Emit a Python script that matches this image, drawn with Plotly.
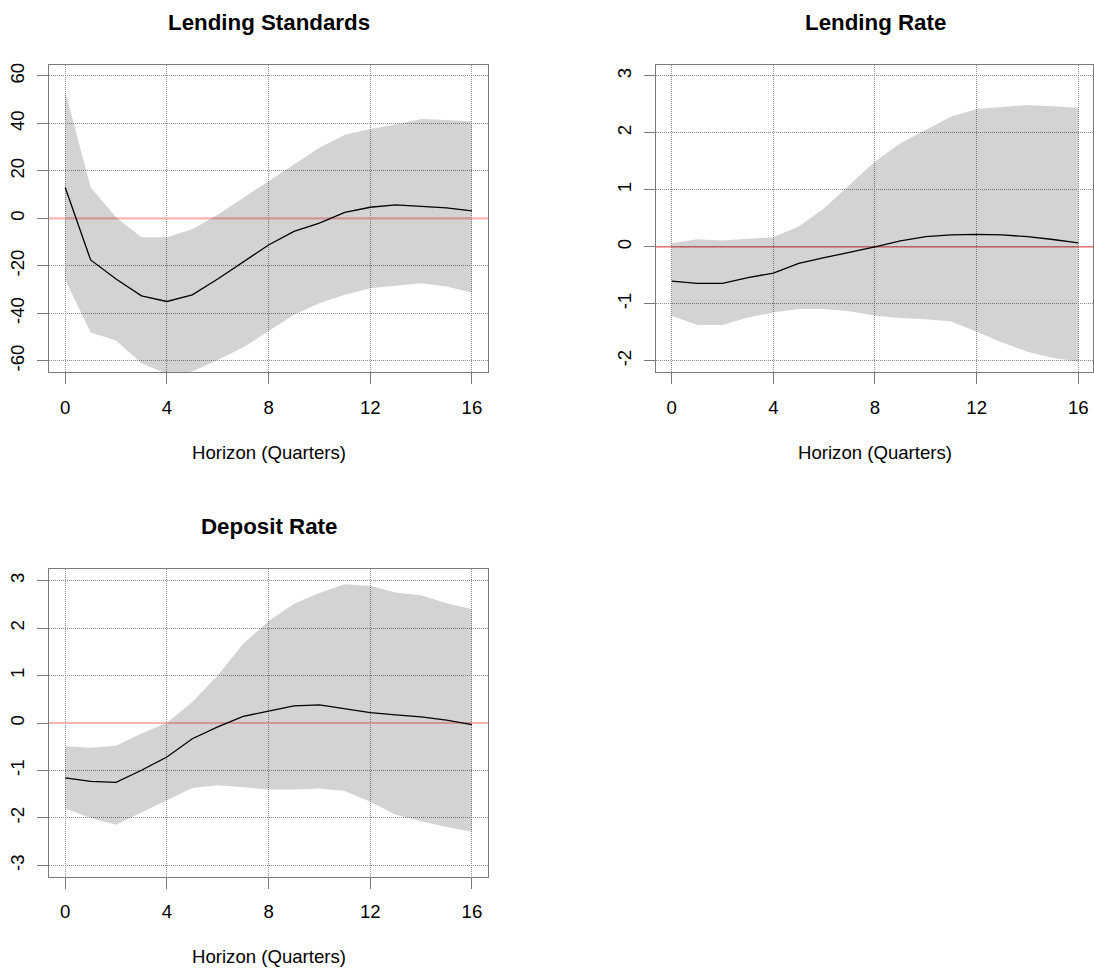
import plotly.graph_objects as go

# Impulse responses (median) with credible band, horizons 0..16 quarters
horizon = list(range(17))

ls_mid = [13.0, -17.5, -25.5, -32.6, -35.0, -32.2, -25.5, -18.2, -11.2, -5.5, -2.0,
          2.5, 4.7, 5.7, 5.1, 4.4, 3.2]
ls_up = [53.7, 13.1, 0.5, -7.9, -7.9, -4.6, 1.5, 8.5, 15.8, 22.5, 29.8,
         35.2, 37.7, 39.6, 41.9, 41.5, 40.8]
ls_lo = [-25.9, -48.1, -51.4, -61.0, -65.5, -64.5, -59.6, -54.4, -47.6, -40.6, -35.7,
         -32.2, -29.4, -28.3, -27.3, -28.7, -31.2]

lr_mid = [-0.60, -0.64, -0.64, -0.54, -0.46, -0.29, -0.19, -0.10, 0.0, 0.105, 0.18,
          0.21, 0.22, 0.21, 0.18, 0.13, 0.07]
lr_up = [0.064, 0.135, 0.11, 0.135, 0.17, 0.36, 0.68, 1.09, 1.50, 1.82, 2.05,
         2.29, 2.42, 2.46, 2.49, 2.47, 2.44]
lr_lo = [-1.21, -1.37, -1.37, -1.24, -1.15, -1.09, -1.09, -1.13, -1.21, -1.25, -1.27,
         -1.31, -1.49, -1.68, -1.84, -1.95, -2.01]

dr_mid = [-1.157, -1.23, -1.25, -0.995, -0.715, -0.33, -0.08, 0.14, 0.25, 0.36, 0.38,
          0.30, 0.22, 0.17, 0.13, 0.06, -0.035]
dr_up = [-0.49, -0.52, -0.48, -0.22, 0.007, 0.44, 1.00, 1.67, 2.14, 2.51, 2.74,
         2.92, 2.89, 2.75, 2.69, 2.52, 2.40]
dr_lo = [-1.80, -2.00, -2.14, -1.89, -1.63, -1.37, -1.31, -1.35, -1.40, -1.40, -1.38,
         -1.43, -1.66, -1.93, -2.07, -2.19, -2.29]

titles = ["Lending Standards", "Lending Rate", "Deposit Rate"]
x_title = "Horizon (Quarters)"
x_ticks = [0, 4, 8, 12, 16]
y_ticks = [[-60, -40, -20, 0, 20, 40, 60],
           [-2, -1, 0, 1, 2, 3],
           [-3, -2, -1, 0, 1, 2, 3]]

W, H = 1094, 971
FONT = "Liberation Sans"
BASE = 18.6

panels = [
    dict(mid=ls_mid, up=ls_up, lo=ls_lo, xr=[-0.64, 16.64], yr=[-64.8, 64.8],
         box=(49.0, 488.6, 62.7, 371.0), zero="rgb(255,180,180)", zw=2.2),
    dict(mid=lr_mid, up=lr_up, lo=lr_lo, xr=[-0.613, 16.578], yr=[-2.2, 3.2],
         box=(656.7, 1094.0, 62.7, 371.0), zero="rgb(235,95,95)", zw=1.1),
    dict(mid=dr_mid, up=dr_up, lo=dr_lo, xr=[-0.64, 16.64], yr=[-3.24, 3.24],
         box=(49.0, 488.6, 568.3, 876.7), zero="rgb(255,180,180)", zw=2.2),
]

fig = go.Figure()
annotations = []

for k, p in enumerate(panels):
    n = "" if k == 0 else str(k + 1)
    xa, ya = "x" + n, "y" + n
    x0, x1, y0, y1 = p["box"]

    # zero reference line spanning the full x range (above grid, under band)
    fig.add_trace(go.Scatter(
        x=p["xr"], y=[0, 0], mode="lines", line=dict(color=p["zero"], width=p["zw"]),
        hoverinfo="skip", showlegend=False, xaxis=xa, yaxis=ya))
    # credible band
    fig.add_trace(go.Scatter(
        x=horizon + horizon[::-1], y=p["up"] + p["lo"][::-1],
        fill="toself", fillcolor="rgba(0,0,0,0.173)", line=dict(width=0),
        mode="lines", hoverinfo="skip", showlegend=False, xaxis=xa, yaxis=ya))
    # median response
    fig.add_trace(go.Scatter(
        x=horizon, y=p["mid"], mode="lines", line=dict(color="black", width=1.3),
        showlegend=False, xaxis=xa, yaxis=ya))

    axis_common = dict(showline=True, mirror=True, linecolor="#7a7a7a", linewidth=1,
                       showgrid=True, gridcolor="#8c8c8c", griddash="1px,1px", gridwidth=1,
                       zeroline=False, ticks="outside", ticklen=11, tickcolor="#7a7a7a",
                       tickfont=dict(family=FONT, size=BASE, color="black"))
    fig.layout["xaxis" + n] = dict(
        axis_common, domain=[x0 / W, min(x1 / W, 1.0)], range=p["xr"],
        tickvals=x_ticks, ticktext=[str(v) for v in x_ticks], ticklabelstandoff=7,
        anchor=ya)
    fig.layout["yaxis" + n] = dict(
        axis_common, domain=[1 - y1 / H, 1 - y0 / H], range=p["yr"],
        tickvals=y_ticks[k], ticktext=[str(v) for v in y_ticks[k]], tickangle=-90,
        ticklabelstandoff=6, anchor=xa)

    cx = (x0 + (x1 if k != 1 else 1095.6)) / 2
    # panel title
    annotations.append(dict(text="<b>" + titles[k] + "</b>", x=cx / W, y=1 - (y0 - 42.5) / H,
                            xref="paper", yref="paper", xanchor="center", yanchor="middle",
                            showarrow=False, font=dict(family=FONT, size=BASE * 1.2, color="black")))
    # x-axis title
    annotations.append(dict(text=x_title, x=cx / W, y=1 - (y1 + 80) / H,
                            xref="paper", yref="paper", xanchor="center", yanchor="middle",
                            showarrow=False, font=dict(family=FONT, size=BASE, color="black")))

fig.update_layout(width=W, height=H, margin=dict(l=0, r=0, t=0, b=0),
                  paper_bgcolor="white", plot_bgcolor="white",
                  annotations=annotations, showlegend=False)

fig.write_html("out.html")
